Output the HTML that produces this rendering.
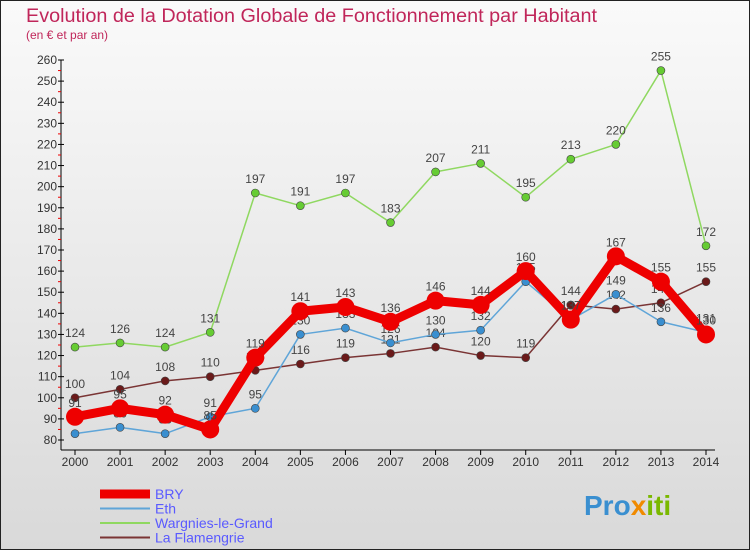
<!DOCTYPE html>
<html><head><meta charset="utf-8"><style>
body{margin:0;width:750px;height:550px;overflow:hidden;font-family:"Liberation Sans",sans-serif}
</style></head><body>
<svg width="750" height="550" xmlns="http://www.w3.org/2000/svg">
<defs><linearGradient id="bg" x1="0" y1="0" x2="0" y2="1"><stop offset="0" stop-color="#fafafa"/><stop offset="1" stop-color="#d9d9d9"/></linearGradient></defs>
<rect x="0.5" y="0.5" width="749" height="549" fill="url(#bg)" stroke="#222"/>
<text x="26" y="22" font-size="19" fill="#c0265a" textLength="571" lengthAdjust="spacingAndGlyphs">Evolution de la Dotation Globale de Fonctionnement par Habitant</text>
<text x="26" y="39" font-size="12" fill="#c0265a">(en € et par an)</text>
<g id="axes"></g>
<g id="series"></g>
<g id="legend" font-size="14" fill="#5a5aff"></g>
<text x="584" y="515" font-size="28" font-weight="bold"><tspan fill="#3a8fd0">Pro</tspan><tspan fill="#f08a00">x</tspan><tspan fill="#7ab800">iti</tspan></text>
</svg>
<script>
const years=[2000,2001,2002,2003,2004,2005,2006,2007,2008,2009,2010,2011,2012,2013,2014];
const bry=[91,95,92,85,119,141,143,136,146,144,160,137,167,155,130];
const eth=[83,86,83,91,95,130,133,126,130,132,155,137,149,136,131];
const wargnies=[124,126,124,131,197,191,197,183,207,211,195,213,220,255,172];
const flamengrie=[100,104,108,110,113,116,119,121,124,120,119,144,142,145,155];
const yTicks=[80,90,100,110,120,130,140,150,160,170,180,190,200,210,220,230,240,250,260];
const NS="http://www.w3.org/2000/svg";
function x(i){return 75+i*(706-75)/(years.length-1);}
function y(v){return 440-(v-80)*(380/180);}
function mk(t,a,p){const e=document.createElementNS(NS,t);for(const k in a)e.setAttribute(k,a[k]);p.appendChild(e);return e;}
const ax=document.getElementById('axes');
const yl=mk('line',{x1:61,y1:y(260),x2:61,y2:450,stroke:'#000'},ax);


const xl=mk('line',{x1:61,y1:450,x2:715,y2:450,stroke:'#000'},ax);


yTicks.forEach(v=>{
 mk('line',{x1:58,y1:y(v),x2:64,y2:y(v),stroke:'#000'},ax);
 if(v<260)mk('line',{x1:58,y1:y(v+5),x2:61,y2:y(v+5),stroke:'#e00'},ax);
 const t=mk('text',{x:57,y:y(v)+4,'text-anchor':'end','font-size':12,fill:'#333'},ax);t.textContent=v;
 
 
});
years.forEach((yr,i)=>{
 mk('line',{x1:x(i),y1:450,x2:x(i),y2:455,stroke:'#000'},ax);
 const t=mk('text',{x:x(i),y:466,'text-anchor':'middle','font-size':12,fill:'#333'},ax);t.textContent=yr;
 
 
});
const sg=document.getElementById('series');
const defs=[
 {d:wargnies,c:'#8fd860',f:'#66cc33',w:1.5,r:4,n:'wargnies'},
 {d:flamengrie,c:'#7a3434',f:'#6b1a1a',w:1.5,r:4,n:'flamengrie'},
 {d:eth,c:'#5fa5d8',f:'#3a8fd0',w:1.5,r:4,n:'eth'},
 {d:bry,c:'#ee0000',f:'#ee0000',w:9,r:9,n:'bry'}];
defs.forEach(s=>{
 const g=mk('g',{},sg);
 
 
 const pl=mk('polyline',{points:s.d.map((v,i)=>x(i)+','+y(v)).join(' '),fill:'none',stroke:s.c,'stroke-width':s.w,'stroke-linejoin':'round'},g);
 
 
 s.d.forEach((v,i)=>{
  const c=mk('circle',{cx:x(i),cy:y(v),r:s.r,fill:s.f,stroke:s.n=='bry'?'#e00':'#444','stroke-width':s.n=='bry'?0:0.6},g);
  
  
  const t=mk('text',{x:x(i),y:y(v)-10,'text-anchor':'middle','font-size':12,fill:'#444'},g);t.textContent=v;
  
  
 });
});
const lg=document.getElementById('legend');
[['BRY','#ee0000',9],['Eth','#5fa5d8',2],['Wargnies-le-Grand','#8fd860',2],['La Flamengrie','#7a3434',2]].forEach((e,i)=>{
 const yy=494+i*14.5;
 const l=mk('line',{x1:100,y1:yy,x2:150,y2:yy,stroke:e[1],'stroke-width':e[2]},lg);
 
 
 const t=mk('text',{x:155,y:yy+5},lg);t.textContent=e[0];
 
 
});
</script>
</body></html>
